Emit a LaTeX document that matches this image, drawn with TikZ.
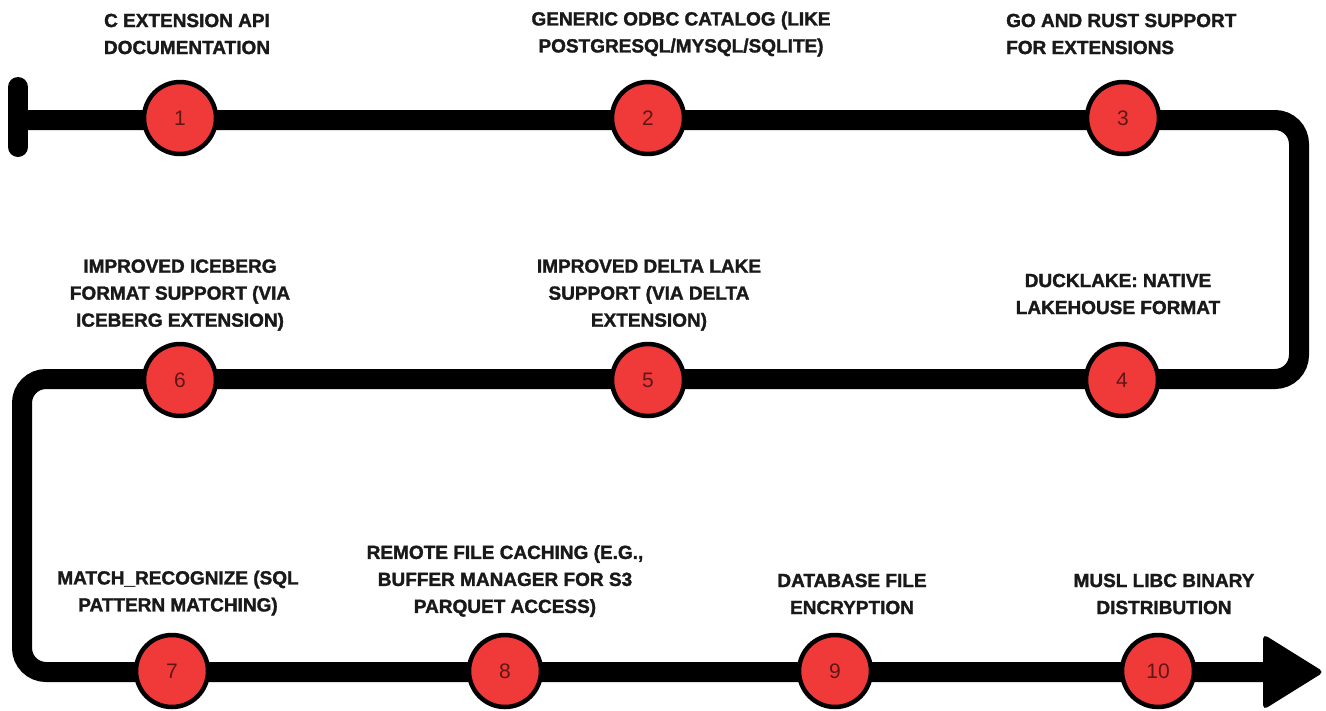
\documentclass[tikz,border=0pt]{standalone}
\usepackage{fontspec}
\setmainfont{Liberation Sans}
\newfontfamily\lblfont[FakeBold=1.6]{Liberation Sans Bold}
\definecolor{dotred}{RGB}{240,58,58}
\definecolor{numcol}{RGB}{95,22,22}
\definecolor{txtcol}{RGB}{25,25,25}
\tikzset{
  track/.style={line width=20pt, black, rounded corners=24pt},
  milestone/.style={circle, fill=dotred, draw=black, line width=4.5pt, minimum size=72pt, inner sep=0pt, text=numcol, font=\fontsize{21}{24}\selectfont},
  lbl/.style={align=center, text=txtcol, inner sep=0pt, font=\fontsize{19}{27}\selectfont\lblfont},
  lblleft/.style={align=left, text=txtcol, inner sep=0pt, font=\fontsize{19}{27}\selectfont\lblfont}
}
\begin{document}
\begin{tikzpicture}[x=1pt,y=-1pt]
\useasboundingbox (0,0) rectangle (1326,710);
% track coordinates
\coordinate (s) at (18,120);
\coordinate (sTop) at (18,87);
\coordinate (sBot) at (18,147);
\coordinate (c1) at (1299,120);
\coordinate (c2) at (1299,379);
\coordinate (c3) at (22,379);
\coordinate (c4) at (22,672);
\coordinate (e) at (1270,672);
\coordinate (tA) at (1263,634);
\coordinate (tB) at (1324,672);
\coordinate (tC) at (1263,710);
% start bar
\draw[line width=20pt, line cap=round] (sTop) -- (sBot);
% track
\draw[track] (s) -- (c1) -- (c2) -- (c3) -- (c4) -- (e);
% arrow head
\fill[black, rounded corners=5pt] (tA) -- (tB) -- (tC) -- cycle;
% milestones
\node[milestone] (m1) at (180,118) {1};
\node[milestone] (m2) at (648,118) {2};
\node[milestone] (m3) at (1123,118) {3};
\node[milestone] (m4) at (1122,380) {4};
\node[milestone] (m5) at (648,380) {5};
\node[milestone] (m6) at (180,380) {6};
\node[milestone] (m7) at (172,671) {7};
\node[milestone] (m8) at (505,671) {8};
\node[milestone] (m9) at (835,671) {9};
\node[milestone] (m10) at (1158,671) {10};
% labels
\node[lbl] (l1) at (187,34) {C EXTENSION API\\DOCUMENTATION};
\node[lbl] (l2) at (681,34) {GENERIC ODBC CATALOG (LIKE\\POSTGRESQL/MYSQL/SQLITE)};
\node[lblleft, anchor=west] (l3) at (1006,34) {GO AND RUST SUPPORT\\FOR EXTENSIONS};
\node[lbl] (l6) at (180,295) {IMPROVED ICEBERG\\FORMAT SUPPORT (VIA\\ICEBERG EXTENSION)};
\node[lbl] (l5) at (649,295) {IMPROVED DELTA LAKE\\SUPPORT (VIA DELTA\\EXTENSION)};
\node[lbl] (l4) at (1118,294) {DUCKLAKE: NATIVE\\LAKEHOUSE FORMAT};
\node[lbl] (l7) at (178,593) {MATCH\_RECOGNIZE (SQL\\PATTERN MATCHING)};
\node[lbl] (l8) at (505,581) {REMOTE FILE CACHING (E.G.,\\BUFFER MANAGER FOR S3\\PARQUET ACCESS)};
\node[lbl] (l9) at (852,594) {DATABASE FILE\\ENCRYPTION};
\node[lbl] (l10) at (1164,594) {MUSL LIBC BINARY\\DISTRIBUTION};
\end{tikzpicture}
\end{document}
